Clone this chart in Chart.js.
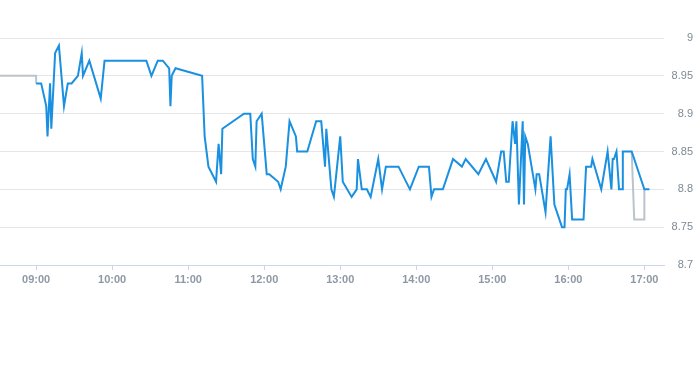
<!DOCTYPE html>
<html>
<head>
<meta charset="utf-8">
<script src="https://cdn.jsdelivr.net/npm/chart.js@4/dist/chart.umd.min.js"></script>
<style>
  html, body { margin: 0; padding: 0; background: #fff; }
  #wrap { width: 693px; height: 365px; position: relative; }
</style>
</head>
<body>
<div id="wrap"><canvas id="chart"></canvas></div>
<script>
// intraday price, times are HH:MM
const priceTimes = [
  "09:00","09:04","09:08","09:09","09:11","09:12","09:15","09:18","09:22","09:25",
  "09:28","09:33","09:36","09:37","09:42","09:51","09:54","10:27","10:31","10:36",
  "10:40","10:45","10:46","10:47","10:50","11:11","11:13","11:16","11:22","11:24",
  "11:26","11:27","11:44","11:49","11:51","11:53","11:54","11:58","12:02","12:04",
  "12:11","12:13","12:17","12:20","12:25","12:26","12:34","12:41","12:45","12:48",
  "12:49","12:53","12:55","13:00","13:02","13:09","13:13","13:14","13:17","13:21",
  "13:24","13:30","13:33","13:36","13:46","13:55","14:02","14:10","14:12","14:14",
  "14:21","14:29","14:36","14:39","14:49","14:55","15:03","15:07","15:09","15:11",
  "15:13","15:16","15:18","15:19","15:21","15:24","15:25","15:26","15:28","15:34",
  "15:35","15:37","15:42","15:46","15:49","15:55","15:57","15:58","15:59","16:01",
  "16:03","16:12","16:14","16:18","16:19","16:26","16:31","16:34","16:35","16:36",
  "16:38","16:40","16:43","16:43","16:50","17:00","17:04"
];
const priceValues = [
  8.94,8.94,8.91,8.87,8.94,8.88,8.98,8.99,8.91,8.94,
  8.94,8.95,8.98,8.95,8.97,8.92,8.97,8.97,8.95,8.97,
  8.97,8.96,8.91,8.95,8.96,8.95,8.87,8.83,8.81,8.86,
  8.82,8.88,8.90,8.90,8.84,8.83,8.89,8.90,8.82,8.82,
  8.81,8.80,8.83,8.89,8.87,8.85,8.85,8.89,8.89,8.83,
  8.88,8.80,8.79,8.87,8.81,8.79,8.80,8.84,8.80,8.80,
  8.79,8.84,8.80,8.83,8.83,8.80,8.83,8.83,8.79,8.80,
  8.80,8.84,8.83,8.84,8.82,8.84,8.81,8.85,8.85,8.81,
  8.81,8.89,8.86,8.89,8.78,8.89,8.78,8.87,8.86,8.80,
  8.82,8.82,8.77,8.87,8.78,8.75,8.75,8.80,8.80,8.82,
  8.76,8.76,8.83,8.83,8.84,8.80,8.85,8.80,8.84,8.84,
  8.85,8.80,8.80,8.85,8.85,8.80,8.80
];

// grey reference line, only visible where it leaves the blue one
const refTimes  = ["08:31","09:00","09:00","12:00","16:50","16:52","17:00","17:00"];
const refValues = [8.95, 8.95, 8.94, null, 8.85, 8.76, 8.76, 8.80];

const hourTicks = ["09:00","10:00","11:00","12:00","13:00","14:00","15:00","16:00","17:00"];
const yTicks = [8.7, 8.75, 8.8, 8.85, 8.9, 8.95, 9];

function toMin(s) {
  const p = s.split(':');
  return Number(p[0]) * 60 + Number(p[1]);
}
function toLabel(m) {
  const h = Math.floor(m / 60), mm = m % 60;
  return String(h).padStart(2, '0') + ':' + String(mm).padStart(2, '0');
}
function points(times, vals) {
  return times.map((t, i) => ({ x: toMin(t), y: vals[i] }));
}

new Chart(document.getElementById('chart'), {
  type: 'line',
  data: {
    datasets: [
      {
        data: points(priceTimes, priceValues),
        borderColor: '#1a90e0',
        borderWidth: 2,
        pointRadius: 0,
        tension: 0,
        order: 1
      },
      {
        data: points(refTimes, refValues),
        borderColor: '#b9c4ce',
        borderWidth: 2,
        pointRadius: 0,
        tension: 0,
        spanGaps: false,
        order: 2
      }
    ]
  },
  options: {
    responsive: true,
    maintainAspectRatio: false,
    animation: false,
    layout: { padding: { top: 38, left: 0, right: 0, bottom: 0 } },
    plugins: { legend: { display: false }, tooltip: { enabled: false } },
    scales: {
      x: {
        type: 'linear',
        min: 511.5,
        max: 1035.5,
        afterFit: (s) => { s.height = 100; },
        afterBuildTicks: (s) => { s.ticks = hourTicks.map(t => ({ value: toMin(t) })); },
        grid: { drawOnChartArea: false, drawTicks: true, tickLength: 5, color: '#ccd6eb' },
        border: { display: true, color: '#ccd6eb' },
        ticks: {
          color: '#8e99a5',
          font: { family: 'Liberation Sans, Arial, sans-serif', size: 11, weight: 'bold' },
          padding: 3,
          maxRotation: 0,
          callback: (v) => toLabel(v)
        }
      },
      y: {
        position: 'right',
        min: 8.7,
        max: 9,
        afterFit: (s) => { s.width = 29; },
        afterBuildTicks: (s) => { s.ticks = yTicks.map(v => ({ value: v })); },
        grid: { color: '#e6e6e6', drawTicks: false },
        border: { display: false },
        ticks: {
          color: '#7f8a94',
          font: { family: 'Liberation Sans, Arial, sans-serif', size: 11 },
          crossAlign: 'far',
          padding: 0,
          callback: (v) => String(v)
        }
      }
    }
  }
});
</script>
</body>
</html>
